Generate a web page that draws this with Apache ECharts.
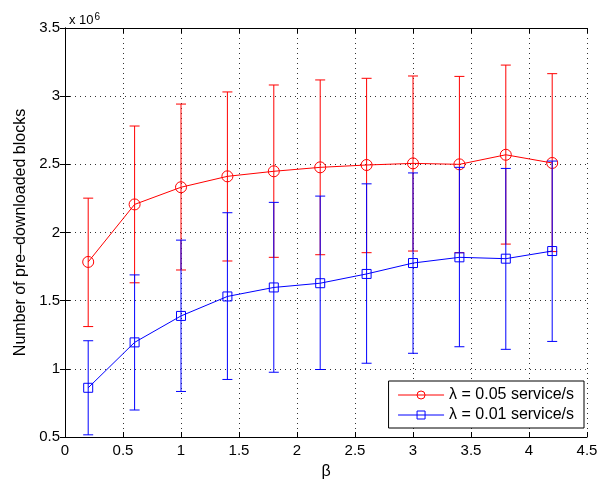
<!DOCTYPE html>
<html>
<head>
<meta charset="utf-8">
<script src="https://cdn.jsdelivr.net/npm/echarts@6/dist/echarts.min.js"></script>
<style>
  html, body { margin: 0; padding: 0; background: #fff; }
  #chart { width: 615px; height: 485px; }
</style>
</head>
<body>
<div id="chart"></div>
<script>
// beta values on the x axis
const beta = [0.2, 0.6, 1.0, 1.4, 1.8, 2.2, 2.6, 3.0, 3.4, 3.8, 4.2];

// lambda = 0.05 service/s (units of 1e6 blocks)
const meanHigh = [1.784, 2.206, 2.332, 2.412, 2.449, 2.478, 2.495, 2.507, 2.500, 2.570, 2.510];
const lowHigh  = [1.310, 1.631, 1.725, 1.791, 1.818, 1.837, 1.852, 1.864, 1.852, 1.915, 1.860];
const upHigh   = [2.252, 2.781, 2.942, 3.031, 3.082, 3.119, 3.131, 3.148, 3.145, 3.228, 3.165];

// lambda = 0.01 service/s
const meanLow = [0.861, 1.194, 1.388, 1.531, 1.597, 1.628, 1.696, 1.776, 1.818, 1.808, 1.864];
const lowLow  = [0.516, 0.698, 0.834, 0.922, 0.975, 0.995, 1.041, 1.114, 1.162, 1.143, 1.201];
const upLow   = [1.206, 1.689, 1.944, 2.145, 2.221, 2.267, 2.357, 2.437, 2.478, 2.470, 2.524];

const seriesNames = ['λ = 0.05 service/s', 'λ = 0.01 service/s'];
const xTicks = [0, 0.5, 1, 1.5, 2, 2.5, 3, 3.5, 4, 4.5];
const yTicks = [0.5, 1, 1.5, 2, 2.5, 3, 3.5];

const FONT = 'Liberation Sans, Arial, Helvetica, sans-serif';

function pairs(xs, ys) { return xs.map((x, i) => [x, ys[i]]); }
function bars(xs, lo, hi) { return xs.map((x, i) => [x, lo[i], hi[i]]); }

// vertical error bar with short horizontal caps
function errorBarRenderer(color) {
  return function (params, api) {
    const x = api.value(0);
    const pLo = api.coord([x, api.value(1)]);
    const pHi = api.coord([x, api.value(2)]);
    const half = 5;
    const style = { stroke: color, lineWidth: 1 };
    return {
      type: 'group',
      children: [
        { type: 'line', shape: { x1: pLo[0], y1: pLo[1], x2: pHi[0], y2: pHi[1] }, style },
        { type: 'line', shape: { x1: pLo[0] - half, y1: pLo[1], x2: pLo[0] + half, y2: pLo[1] }, style },
        { type: 'line', shape: { x1: pHi[0] - half, y1: pHi[1], x2: pHi[0] + half, y2: pHi[1] }, style }
      ]
    };
  };
}

const gridLine = { show: true, lineStyle: { color: '#333', width: 1, type: [1, 4] } };
const axisBox = { show: true, lineStyle: { color: '#000', width: 1 } };
const tickIn = { show: true, inside: true, length: 5, lineStyle: { color: '#000' } };
const labelStyle = { color: '#000', fontFamily: FONT, fontSize: 15 };

const chart = echarts.init(document.getElementById('chart'), null, { renderer: 'canvas' });

chart.setOption({
  backgroundColor: '#fff',
  animation: false,
  textStyle: { fontFamily: FONT },
  title: {
    text: 'x 10{sup|6}',
    left: 64, top: 7,
    textStyle: {
      fontSize: 13, fontWeight: 'normal', color: '#000', fontFamily: FONT,
      rich: { sup: { fontSize: 10, verticalAlign: 'top', padding: [0, 0, 7, 1], color: '#000', fontFamily: FONT } }
    }
  },
  grid: { left: 65, right: 28, top: 28, bottom: 45 },
  xAxis: [
    {
      type: 'value', min: 0, max: 4.5, interval: 0.5,
      name: 'β', nameLocation: 'middle', nameGap: 27,
      nameTextStyle: { color: '#000', fontFamily: FONT, fontSize: 16 },
      axisLine: axisBox, axisTick: tickIn, splitLine: gridLine,
      axisLabel: Object.assign({ margin: 6, formatter: v => String(v) }, labelStyle),
      data: xTicks
    },
    {
      type: 'value', min: 0, max: 4.5, interval: 0.5, position: 'top',
      axisLine: axisBox, axisTick: tickIn, splitLine: { show: false }, axisLabel: { show: false }
    }
  ],
  yAxis: [
    {
      type: 'value', min: 0.5, max: 3.5, interval: 0.5,
      name: 'Number of pre–downloaded blocks', nameLocation: 'middle', nameGap: 35,
      nameTextStyle: { color: '#000', fontFamily: FONT, fontSize: 16 },
      axisLine: axisBox, axisTick: tickIn, splitLine: gridLine,
      axisLabel: Object.assign({ margin: 5, formatter: v => String(v) }, labelStyle),
      data: yTicks
    },
    {
      type: 'value', min: 0.5, max: 3.5, interval: 0.5, position: 'right',
      axisLine: axisBox, axisTick: tickIn, splitLine: { show: false }, axisLabel: { show: false }
    }
  ],
  legend: {
    data: seriesNames,
    orient: 'vertical',
    right: 31, bottom: 57,
    backgroundColor: '#fff',
    borderColor: '#000', borderWidth: 1, borderRadius: 0,
    padding: [5, 10, 4, 9],
    itemGap: 2,
    itemWidth: 46, itemHeight: 10,
    itemStyle: { borderWidth: 1 },
    lineStyle: { width: 1 },
    textStyle: { color: '#000', fontFamily: FONT, fontSize: 16, lineHeight: 18 }
  },
  series: [
    {
      type: 'custom', name: 'errHigh', xAxisIndex: 0, yAxisIndex: 0,
      renderItem: errorBarRenderer('#ff0000'),
      encode: { x: 0, y: [1, 2] },
      data: bars(beta, lowHigh, upHigh), z: 2, silent: true
    },
    {
      type: 'line', name: seriesNames[0], xAxisIndex: 0, yAxisIndex: 0,
      data: pairs(beta, meanHigh),
      symbol: 'circle', symbolSize: 11,
      lineStyle: { color: '#ff0000', width: 1 },
      itemStyle: { color: 'rgba(0,0,0,0)', borderColor: '#ff0000', borderWidth: 1 },
      z: 3
    },
    {
      type: 'custom', name: 'errLow', xAxisIndex: 0, yAxisIndex: 0,
      renderItem: errorBarRenderer('#0000ff'),
      encode: { x: 0, y: [1, 2] },
      data: bars(beta, lowLow, upLow), z: 4, silent: true
    },
    {
      type: 'line', name: seriesNames[1], xAxisIndex: 0, yAxisIndex: 0,
      data: pairs(beta, meanLow),
      symbol: 'rect', symbolSize: 9,
      lineStyle: { color: '#0000ff', width: 1 },
      itemStyle: { color: 'rgba(0,0,0,0)', borderColor: '#0000ff', borderWidth: 1 },
      z: 5
    }
  ]
});
</script>
</body>
</html>
